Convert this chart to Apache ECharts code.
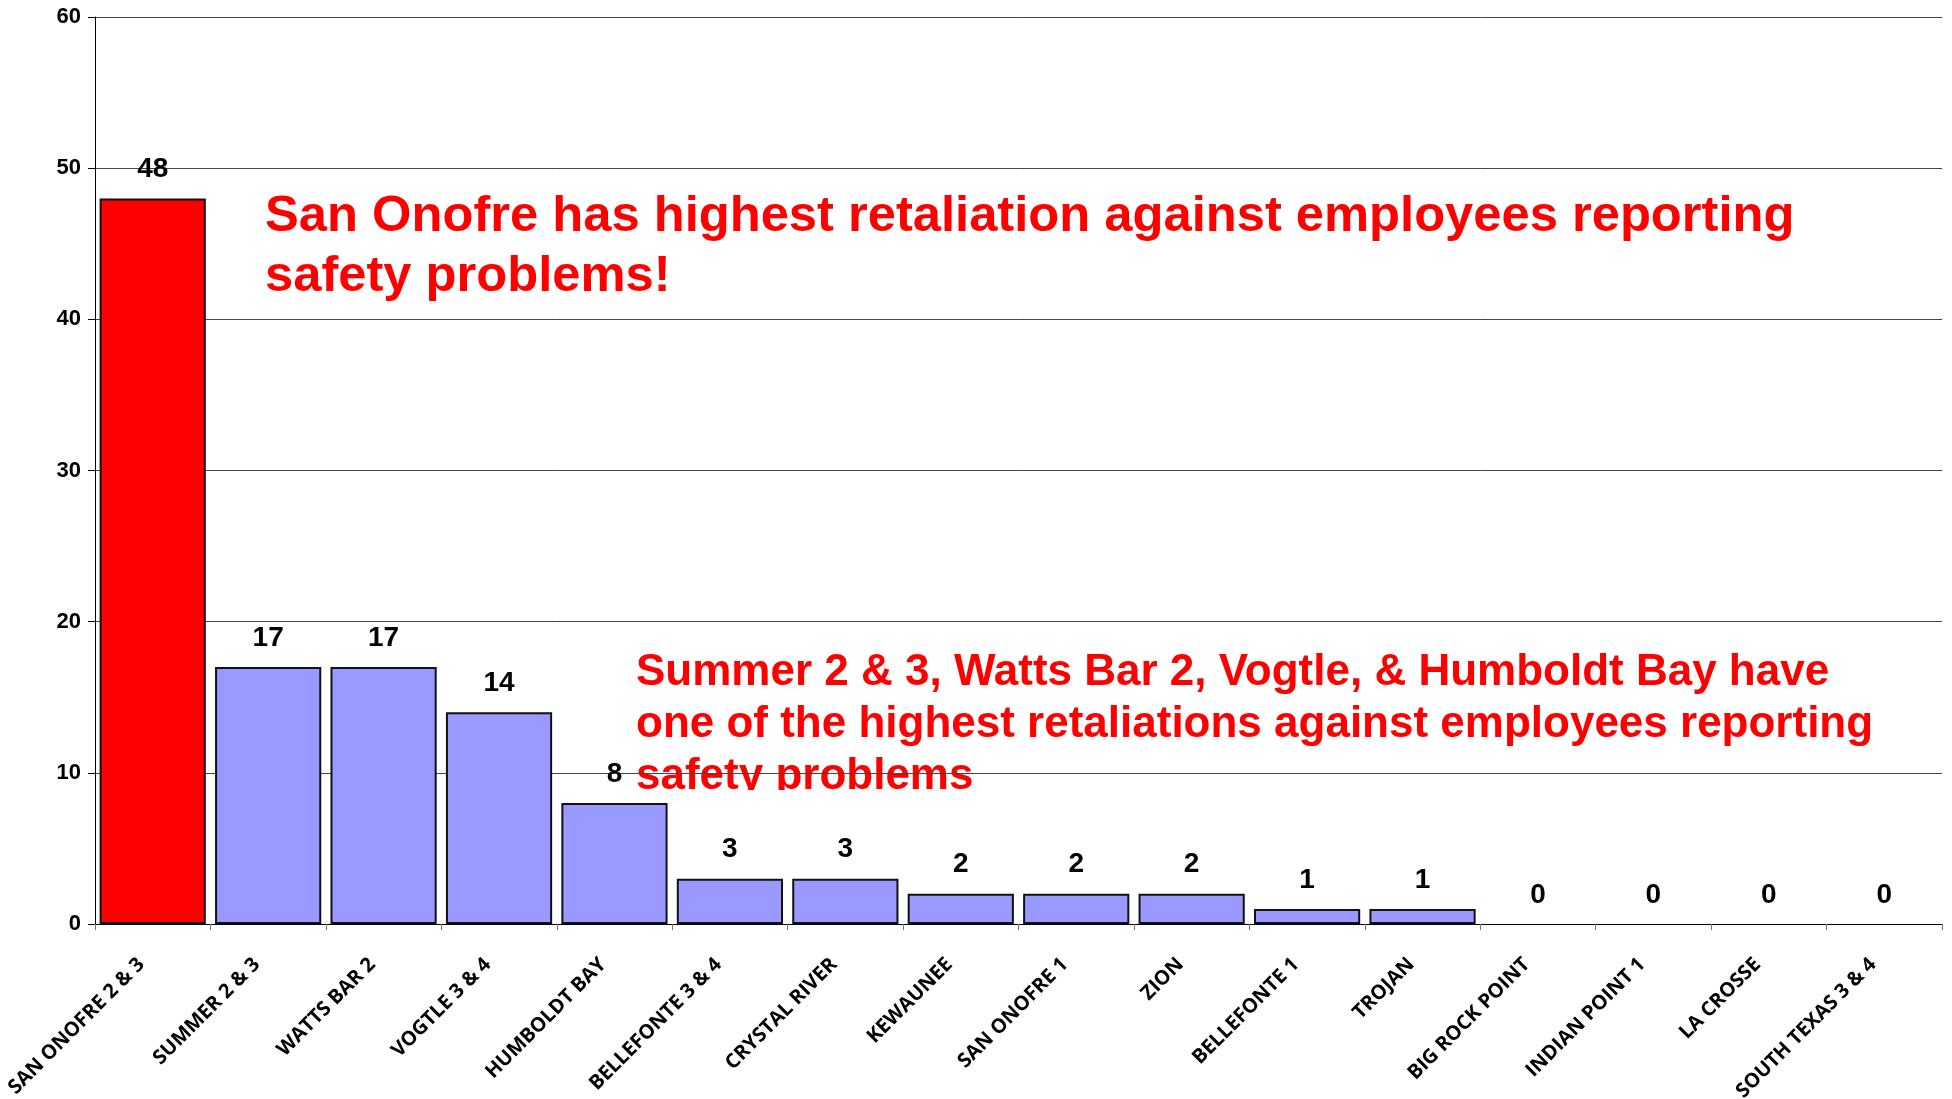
<!DOCTYPE html>
<html>
<head>
<meta charset="utf-8">
<script src="https://cdn.jsdelivr.net/npm/echarts@6/dist/echarts.min.js"></script>
<style>
  html, body { margin: 0; padding: 0; background: #fff; }
  #chart { width: 1952px; height: 1099px; }
</style>
</head>
<body>
<div id="chart"></div>
<script>
const plants = [
  'SAN ONOFRE 2 & 3', 'SUMMER 2 & 3', 'WATTS BAR 2', 'VOGTLE 3 & 4', 'HUMBOLDT BAY',
  'BELLEFONTE 3 & 4', 'CRYSTAL RIVER', 'KEWAUNEE', 'SAN ONOFRE 1', 'ZION',
  'BELLEFONTE 1', 'TROJAN', 'BIG ROCK POINT', 'INDIAN POINT 1', 'LA CROSSE', 'SOUTH TEXAS 3 & 4'
];
const retaliations = [48, 17, 17, 14, 8, 3, 3, 2, 2, 2, 1, 1, 0, 0, 0, 0];
const yTicks = { min: 0, max: 60, interval: 10 };

const note1 = 'San Onofre has highest retaliation against employees reporting\nsafety problems!';
const note2 = 'Summer 2 & 3, Watts Bar 2, Vogtle, & Humboldt Bay have\none of the highest retaliations against employees reporting\nsafety problems';

const chart = echarts.init(document.getElementById('chart'));

chart.setOption({
  animation: false,
  grid: { left: 95, right: 10, top: 17, bottom: 175, outerBoundsMode: 'none', containLabel: false },
  xAxis: {
    type: 'category',
    data: plants,
    axisLine: { lineStyle: { color: '#000', width: 1 } },
    axisTick: { show: true, length: 6, lineStyle: { color: '#777' } },
    axisLabel: {
      rotate: 45,
      margin: 26,
      padding: [0, 16, 0, 0],
      interval: 0,
      fontFamily: 'Open Sans',
      fontWeight: 'bold',
      fontSize: 20,
      color: '#000'
    }
  },
  yAxis: {
    type: 'value',
    min: yTicks.min,
    max: yTicks.max,
    interval: yTicks.interval,
    axisLine: { show: true, lineStyle: { color: '#000', width: 1 } },
    axisTick: { show: true, length: 7, lineStyle: { color: '#000' } },
    splitLine: { lineStyle: { color: '#444', width: 1 } },
    axisLabel: {
      margin: 14,
      fontFamily: 'Liberation Sans',
      fontWeight: 'bold',
      fontSize: 22,
      color: '#000'
    }
  },
  series: [{
    type: 'bar',
    data: retaliations.map((v, i) => ({
      value: v,
      itemStyle: {
        color: i === 0 ? '#FF0000' : '#9999FF',
        borderWidth: v === 0 ? 0 : 2
      }
    })),
    barCategoryGap: '8%',
    itemStyle: { borderColor: '#111', borderWidth: 2 },
    label: {
      show: true,
      position: 'top',
      distance: 15,
      fontFamily: 'Liberation Sans',
      fontWeight: 'bold',
      fontSize: 28,
      color: '#000'
    }
  }],
  graphic: [
    {
      type: 'text',
      left: 265,
      top: 187,
      z: -10,
      style: {
        text: note1,
        fill: '#FF0000',
        font: 'bold 50.7px "Liberation Sans"',
        lineHeight: 60
      }
    },
    {
      type: 'text',
      left: 636,
      top: 647,
      z: -10,
      style: {
        text: note2,
        fill: '#FF0000',
        font: 'bold 44px "Liberation Sans"',
        lineHeight: 52
      }
    },
    {
      // the third line of the note is cut off in the original slide
      type: 'rect',
      shape: { x: 670, y: 790, width: 360, height: 14 },
      style: { fill: '#fff' },
      z: 5
    },
    {
      type: 'rect',
      shape: { x: 630, y: 790, width: 40, height: 11 },
      style: { fill: '#fff' },
      z: 5
    }
  ]
});
</script>
</body>
</html>
